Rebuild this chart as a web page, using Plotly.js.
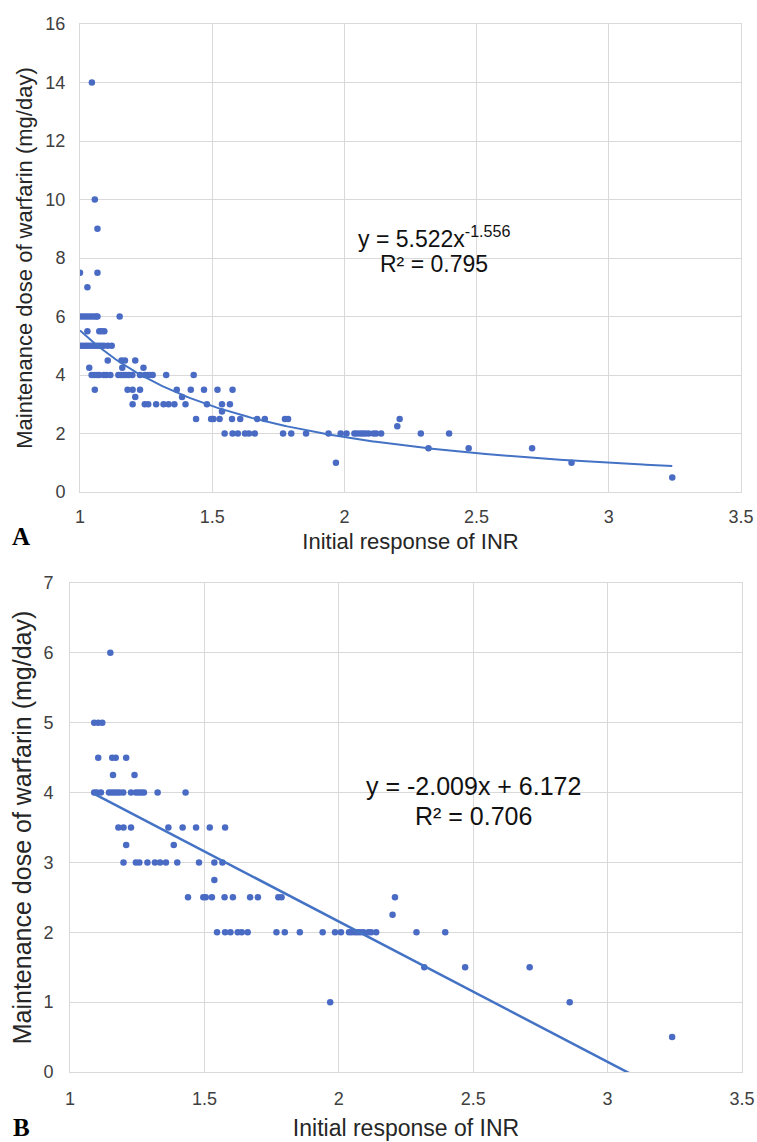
<!DOCTYPE html>
<html>
<head>
<meta charset="utf-8">
<script src="https://cdn.plot.ly/plotly-3.0.1.min.js"></script>
<style>html,body{margin:0;padding:0;background:#fff;}#chart{width:757px;height:1142px;}</style>
</head>
<body>
<div id="chart"></div>
<script>
// Points shown only in panel A (lowest INR responses)
var inrOnlyA  = [1.045, 1.056, 1.066, 1.0, 1.066, 1.028,
                 1.0, 1.01, 1.02, 1.03, 1.04, 1.05, 1.06, 1.066,
                 1.028, 1.073, 1.082, 1.092,
                 1.0, 1.01, 1.02, 1.03, 1.04, 1.05, 1.06, 1.07, 1.08,
                 1.035, 1.044, 1.055, 1.065, 1.073, 1.056];
var doseOnlyA = [14, 10, 9, 7.5, 7.5, 7,
                 6, 6, 6, 6, 6, 6, 6, 6,
                 5.5, 5.5, 5.5, 5.5,
                 5, 5, 5, 5, 5, 5, 5, 5, 5,
                 4.25, 4, 4, 4, 4, 3.5];
// Points shown in both panels
var inrShared = [1.15,
                 1.09, 1.105, 1.12,
                 1.105, 1.157, 1.17, 1.209,
                 1.16, 1.24,
                 1.09, 1.10, 1.115, 1.145, 1.155, 1.165, 1.175, 1.185, 1.198, 1.227, 1.245, 1.255, 1.265, 1.275, 1.326, 1.43,
                 1.18, 1.199, 1.227, 1.366, 1.419, 1.469, 1.52, 1.577,
                 1.209, 1.386,
                 1.199, 1.245, 1.258, 1.288, 1.316, 1.335, 1.357, 1.399, 1.48, 1.537, 1.567,
                 1.537,
                 1.439, 1.496, 1.505, 1.528, 1.575, 1.606, 1.67, 1.699, 1.775, 1.787, 2.209,
                 2.2,
                 1.547, 1.577, 1.597, 1.624, 1.639, 1.661, 1.768, 1.799, 1.855, 1.94, 1.986, 2.008, 2.038, 2.048, 2.06, 2.07, 2.08, 2.092, 2.11, 2.12, 2.139, 2.289, 2.396,
                 2.318, 2.47, 2.71,
                 1.968, 2.859,
                 3.24];
var doseShared = [6,
                 5, 5, 5,
                 4.5, 4.5, 4.5, 4.5,
                 4.25, 4.25,
                 4, 4, 4, 4, 4, 4, 4, 4, 4, 4, 4, 4, 4, 4, 4, 4,
                 3.5, 3.5, 3.5, 3.5, 3.5, 3.5, 3.5, 3.5,
                 3.25, 3.25,
                 3, 3, 3, 3, 3, 3, 3, 3, 3, 3, 3,
                 2.75,
                 2.5, 2.5, 2.5, 2.5, 2.5, 2.5, 2.5, 2.5, 2.5, 2.5, 2.5,
                 2.25,
                 2, 2, 2, 2, 2, 2, 2, 2, 2, 2, 2, 2, 2, 2, 2, 2, 2, 2, 2, 2, 2, 2, 2,
                 1.5, 1.5, 1.5,
                 1, 1,
                 0.5];
// Trend line coefficients
var powerA = {a: 5.522, b: -1.556, r2: 0.795};
var linearB = {m: -2.009, c: 6.172, r2: 0.706};
var xTicks = [1, 1.5, 2, 2.5, 3, 3.5];

var inrA = inrOnlyA.concat(inrShared);
var doseA = doseOnlyA.concat(doseShared);

function range(arr){ return [Math.min.apply(null, arr), Math.max.apply(null, arr)]; }
var rA = range(inrA), rB = range(inrShared);
var fitAx = [], fitAy = [];
for (var i = 0; i <= 200; i++) {
  var xa = rA[0] + (rA[1] - rA[0]) * i / 200;
  fitAx.push(xa); fitAy.push(powerA.a * Math.pow(xa, powerA.b));
}
var fitBx = [rB[0], rB[1]];
var fitBy = fitBx.map(function(x){ return linearB.m * x + linearB.c; });

var blue = '#4a6bc4';
var lineBlue = '#4472C4';
var traces = [
  {x: inrA, y: doseA, type: 'scatter', mode: 'markers', xaxis: 'x', yaxis: 'y',
   marker: {color: blue, size: 6.5}},
  {x: fitAx, y: fitAy, type: 'scatter', mode: 'lines', xaxis: 'x', yaxis: 'y',
   line: {color: lineBlue, width: 2}},
  {x: inrShared, y: doseShared, type: 'scatter', mode: 'markers', xaxis: 'x2', yaxis: 'y2',
   marker: {color: blue, size: 6.5}},
  {x: fitBx, y: fitBy, type: 'scatter', mode: 'lines', xaxis: 'x2', yaxis: 'y2',
   line: {color: lineBlue, width: 2.5}}
];

var W = 757, H = 1142;
var fam = 'Liberation Sans, Arial, sans-serif';
var tickFont = {family: fam, size: 18, color: '#404040'};
var titleFontA = {family: fam, size: 22, color: '#262626'};
var titleFontBx = {family: fam, size: 23, color: '#262626'};
var titleFontBy = {family: fam, size: 25, color: '#262626'};
var gridC = '#d9d9d9';
function axisBase(){
  return {showgrid: true, gridcolor: gridC, gridwidth: 1, zeroline: false,
          showline: true, linecolor: gridC, linewidth: 1, mirror: true,
          ticks: '', tickfont: tickFont, fixedrange: true};
}
var xa1 = Object.assign(axisBase(), {domain: [80/W, 741/W], range: [1, 3.5], tickvals: xTicks, anchor: 'y',
  ticklabelstandoff: 8, title: {text: 'Initial response of INR', font: titleFontA, standoff: 8}});
var ya1 = Object.assign(axisBase(), {domain: [1-492/H, 1-24/H], range: [0, 16], dtick: 2, anchor: 'x',
  ticklabelstandoff: 10, title: {text: 'Maintenance dose of warfarin (mg/day)', font: titleFontA, standoff: 6}});
var xa2 = Object.assign(axisBase(), {domain: [70/W, 742/W], range: [1, 3.5], tickvals: xTicks, anchor: 'y2',
  ticklabelstandoff: 10, title: {text: 'Initial response of INR', font: titleFontBx, standoff: 12}});
var ya2 = Object.assign(axisBase(), {domain: [1-1072/H, 1-583/H], range: [0, 7], dtick: 1, anchor: 'x2',
  ticklabelstandoff: 12, title: {text: 'Maintenance dose of warfarin (mg/day)', font: titleFontBy, standoff: 4}});

var eqFontA = {family: fam, size: 23, color: '#111'};
var eqFontB = {family: fam, size: 25, color: '#111'};
var layout = {
  width: W, height: H, margin: {l: 0, r: 0, t: 0, b: 0},
  paper_bgcolor: '#fff', plot_bgcolor: '#fff', showlegend: false,
  xaxis: xa1, yaxis: ya1, xaxis2: xa2, yaxis2: ya2,
  annotations: [
    {xref: 'x', yref: 'y', x: 2.34, y: 8.72, showarrow: false, font: eqFontA,
     text: 'y = ' + powerA.a + 'x<sup>' + powerA.b + '</sup>'},
    {xref: 'x', yref: 'y', x: 2.34, y: 7.8, showarrow: false, font: eqFontA,
     text: 'R² = ' + powerA.r2},
    {xref: 'x2', yref: 'y2', x: 2.5, y: 4.1, showarrow: false, font: eqFontB,
     text: 'y = ' + linearB.m + 'x + ' + linearB.c},
    {xref: 'x2', yref: 'y2', x: 2.5, y: 3.67, showarrow: false, font: eqFontB,
     text: 'R² = ' + linearB.r2},
    {xref: 'paper', yref: 'paper', x: 21/W, y: 1-536/H, xanchor: 'center', yanchor: 'middle', showarrow: false,
     text: '<b>A</b>', font: {family: 'Liberation Serif, Times New Roman, serif', size: 25, color: '#000'}},
    {xref: 'paper', yref: 'paper', x: 21/W, y: 1-1127/H, xanchor: 'center', yanchor: 'middle', showarrow: false,
     text: '<b>B</b>', font: {family: 'Liberation Serif, Times New Roman, serif', size: 25, color: '#000'}}
  ]
};
Plotly.newPlot('chart', traces, layout, {displayModeBar: false, staticPlot: true});
</script>
</body>
</html>
